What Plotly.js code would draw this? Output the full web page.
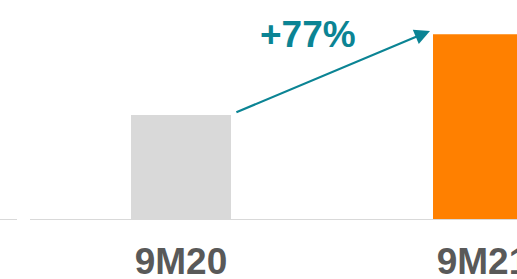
<!DOCTYPE html>
<html>
<head>
<meta charset="utf-8">
<script src="https://cdn.plot.ly/plotly-3.0.1.min.js"></script>
<style>html,body{margin:0;padding:0;background:#fff;}#chart{width:517px;height:279px;}</style>
</head>
<body>
<div id="chart"></div>
<script>
const categories = ['9M20', '9M21'];
const values = [100, 177];
const barColors = ['#D9D9D9', '#FF8000'];

const barWidth = 0.331;
const growth = Math.round((values[1] / values[0] - 1) * 100);

const trace = {
  type: 'bar',
  x: [0, 1],
  y: values,
  width: barWidth,
  marker: {color: barColors, line: {width: 0}},
  hoverinfo: 'none'
};

const layout = {
  width: 517,
  height: 279,
  margin: {l: 30, r: 0, t: 0, b: 59, pad: 0},
  paper_bgcolor: '#ffffff',
  plot_bgcolor: '#ffffff',
  showlegend: false,
  xaxis: {
    range: [-0.5, 1.1126],
    tickmode: 'array',
    tickvals: [0, 1],
    ticktext: categories,
    showgrid: false,
    zeroline: false,
    showline: false,
    ticks: '',
    ticklabelstandoff: 16,
    ticklabeloverflow: 'allow',
    tickfont: {family: 'Liberation Sans, Arial, sans-serif', size: 37, color: '#595959', weight: 700},
    fixedrange: true
  },
  yaxis: {
    range: [0, 209.5],
    visible: false,
    showgrid: false,
    zeroline: false,
    fixedrange: true
  },
  shapes: [
    {type: 'line', xref: 'paper', yref: 'y', x0: 0, x1: 1, y0: 0, y1: 0,
     line: {color: '#D9D9D9', width: 2}},
    {type: 'line', xref: 'paper', yref: 'y', x0: -30/487, x1: -13/487, y0: 0, y1: 0,
     line: {color: '#D9D9D9', width: 2}}
  ],
  annotations: [
    {
      xref: 'x', yref: 'y', axref: 'x', ayref: 'y',
      x: 1 - barWidth / 2 - 0.01, y: values[1] + 3,
      ax: barWidth / 2 + 0.013, ay: values[0] + 2,
      text: '', showarrow: true, arrowhead: 2, arrowsize: 1.4, arrowwidth: 2.2,
      arrowcolor: '#0B8494', standoff: 0, startstandoff: 0
    },
    {
      xref: 'x', yref: 'y', x: 0.4205, y: 176.7,
      text: '+' + growth + '%', showarrow: false,
      font: {family: 'Liberation Sans, Arial, sans-serif', size: 37, color: '#0B8494', weight: 700},
      xanchor: 'center', yanchor: 'middle'
    }
  ]
};

Plotly.newPlot('chart', [trace], layout, {displayModeBar: false, staticPlot: true});
</script>
</body>
</html>
